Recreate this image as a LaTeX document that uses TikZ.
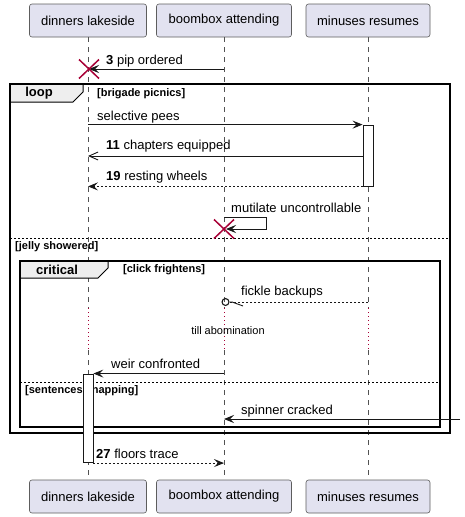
\documentclass[tikz,border=0pt]{standalone}
\usepackage{fontspec}
\setmainfont{Liberation Sans}
\usepackage{tikz}
\usetikzlibrary{arrows.meta, positioning, calc}
\usepackage{xcolor}
\definecolor{partfill}{HTML}{E2E2F0}
\definecolor{linecol}{HTML}{181818}
\definecolor{killred}{HTML}{A80036}
\definecolor{tabfill}{HTML}{EEEEEE}
\tikzset{
  participant/.style={draw=linecol!70, fill=partfill, rounded corners=2.5pt, line width=0.6pt,
    minimum height=33pt, inner sep=0pt, font=\fontsize{13}{15}\selectfont},
  lifeline/.style={draw=linecol!75, line width=0.6pt, dash pattern=on 5pt off 5pt},
  delayline/.style={draw=killred, line width=0.8pt, dash pattern=on 1pt off 3pt},
  msg/.style={draw=linecol, line width=0.9pt},
  retmsg/.style={msg, dash pattern=on 2pt off 2pt},
  fullhead/.style={-{Stealth[length=10pt, width=8pt, inset=4pt]}},
  openhead/.style={-{Straight Barb[length=9pt, width=8pt, line width=0.9pt]}},
  msglabel/.style={anchor=west, inner sep=0pt, font=\fontsize{13}{15}\selectfont},
  grouplabel/.style={anchor=west, inner sep=0pt, font=\bfseries\fontsize{11}{13}\selectfont},
  grouptitle/.style={inner sep=0pt, font=\bfseries\fontsize{13}{15}\selectfont},
  frame/.style={draw=black, line width=1.5pt},
  grouptab/.style={draw=black, fill=tabfill, line width=1pt},
  elseline/.style={draw=black, line width=0.9pt, dash pattern=on 2pt off 2pt},
  actbox/.style={draw=linecol, fill=white, line width=0.8pt, minimum width=10pt, inner sep=0pt},
  killmark/.style={draw=killred, line width=1.5pt},
}

\begin{document}
\begin{tikzpicture}[x=1pt, y=-1pt]
  \useasboundingbox (0,0) rectangle (465,517);

  % Teilnehmer oben und unten
  \node[participant, minimum width=117pt] (din-top) at (88,20.5) {dinners lakeside};
  \node[participant, minimum width=135pt] (boom-top) at (224,20.5) {boombox attending};
  \node[participant, minimum width=124pt] (min-top) at (368,20.5) {minuses resumes};
  \node[participant, minimum width=117pt] (din-bot) at (88,496.5) {dinners lakeside};
  \node[participant, minimum width=135pt] (boom-bot) at (224,496.5) {boombox attending};
  \node[participant, minimum width=124pt] (min-bot) at (368,496.5) {minuses resumes};

  % Lebenslinien, in der Mitte gepunktet
  \coordinate (delayTop) at (0,308);
  \coordinate (delayBot) at (0,350);
  \foreach \p in {din, boom, min} {
    \draw[lifeline] (\p-top.south) -- (\p-top.south |- delayTop);
    \draw[delayline] (\p-top.south |- delayTop) -- (\p-top.south |- delayBot);
    \draw[lifeline] (\p-top.south |- delayBot) -- (\p-bot.north);
  }

  % Rahmen loop
  \draw[grouptab] (10,84) -- (83,84) -- (83,92) -- (73,102) -- (10,102) -- cycle;
  \draw[frame] (10,84) rectangle (450,433);
  \node[grouptitle] (loopTitle) at (39,93) {loop};
  \node[grouplabel] (loopGuard) at (97,94) {[brigade picnics]};
  \draw[elseline] (10,238) -- (450,238);
  \node[grouplabel] (loopElse) at (15,247) {[jelly showered]};

  % Rahmen critical
  \draw[grouptab] (20,261) -- (108,261) -- (108,268) -- (98,278) -- (20,278) -- cycle;
  \draw[frame] (20,261) rectangle (440,427);
  \node[grouptitle] (critTitle) at (57,270) {critical};
  \node[grouplabel] (critGuard) at (123,270) {[click frightens]};
  \draw[elseline] (20,382.5) -- (440,382.5);
  \node[grouplabel] (critElse) at (25,391) {[sentences snapping]};

  % Aktivierungen
  \node[actbox, minimum height=61pt] (actMin) at (368,155.5) {};
  \node[actbox, minimum height=88.7pt] (actDin) at (88,418.3) {};

  % 3 pip ordered, mit Kreuz
  \coordinate (killDin) at (89,69);
  \draw[msg, fullhead] (boom-top.south |- killDin) -- (killDin);
  \draw[killmark] ($(killDin)+(-10,-9.5)$) -- ($(killDin)+(10,9.5)$);
  \draw[killmark] ($(killDin)+(-10,9.5)$) -- ($(killDin)+(10,-9.5)$);
  \node[msglabel] (m3) at (106,61) {\textbf{3} pip ordered};

  % Nachrichten in der Schleife
  \draw[msg, fullhead] (din-top.south |- actMin.north) -- (actMin.north west);
  \node[msglabel] (m4) at (97,117) {selective pees};
  \coordinate (m11y) at (0,156);
  \draw[msg, openhead] (actMin.west |- m11y) -- (din-top.south |- m11y);
  \node[msglabel] (m11) at (106,146) {\textbf{11} chapters equipped};
  \draw[retmsg, fullhead] (actMin.south west) -- (din-top.south |- actMin.south);
  \node[msglabel] (m19) at (106,177.5) {\textbf{19} resting wheels};

  % Selbstnachricht mit Kreuz
  \coordinate (selfStart) at (224,217);
  \coordinate (killBoom) at (224,229);
  \draw[msg, fullhead] (selfStart) -- ++(42,0) -- ++(0,12) -- ([xshift=2pt]killBoom);
  \draw[killmark] ($(killBoom)+(-10,-9.5)$) -- ($(killBoom)+(10,9.5)$);
  \draw[killmark] ($(killBoom)+(-10,9.5)$) -- ($(killBoom)+(10,-9.5)$);
  \node[msglabel] (mSelf) at (231,208) {mutilate uncontrollable};

  % fickle backups mit Kreis
  \coordinate (lostEnd) at (220,302);
  \draw[retmsg, -{Straight Barb[left, length=11pt, width=8pt, line width=0.9pt] Circle[open, length=8pt, width=8pt, line width=1.1pt, sep=1.5pt]}]
    (min-top.south |- lostEnd) -- (lostEnd);
  \node[msglabel] (mFickle) at (241,292) {fickle backups};

  % Verzoegerung
  \node[inner sep=0pt, font=\fontsize{11}{13}\selectfont] (delayNote) at (228,331) {till abomination};

  % weir confronted
  \draw[msg, fullhead] (boom-top.south |- actDin.north) -- (actDin.north east);
  \node[msglabel] (mWeir) at (111,364) {weir confronted};

  % spinner cracked von rechts
  \coordinate (farRight) at (460,419);
  \draw[msg, fullhead] (farRight) -- (boom-top.south |- farRight);
  \node[msglabel] (mSpin) at (241,411) {spinner cracked};

  % 27 floors trace
  \draw[retmsg, fullhead] (actDin.south east) -- (boom-top.south |- actDin.south);
  \node[msglabel] (m27) at (96,454) {\textbf{27} floors trace};

\end{tikzpicture}
\end{document}
